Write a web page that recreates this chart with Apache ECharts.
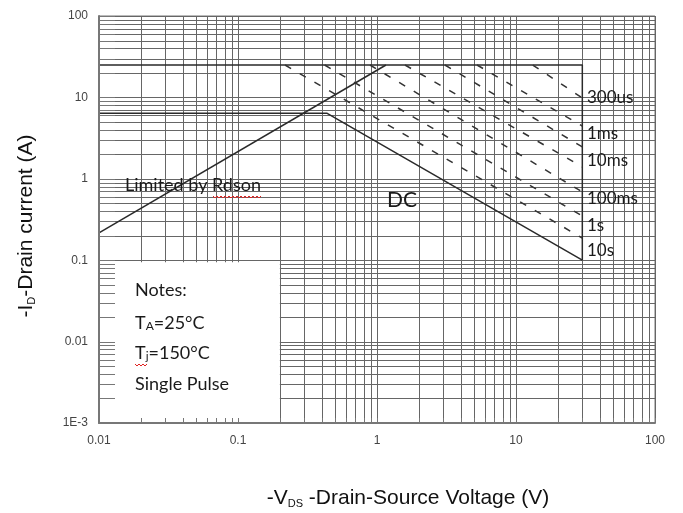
<!DOCTYPE html>
<html><head><meta charset="utf-8">
<script src="https://cdn.jsdelivr.net/npm/echarts@6/dist/echarts.min.js"></script>
<style>html,body{margin:0;padding:0;background:#fff}#c{width:683px;height:513px}</style>
</head><body><div id="c"></div>
<script>
// ---- tick labels ----
const xTickLabels = {'0.01':'0.01','0.1':'0.1','1':'1','10':'10','100':'100'};
const yTickLabels = {'0.001':'1E-3','0.01':'0.01','0.1':'0.1','1':'1','10':'10','100':'100'};
// ---- grid (decades x mantissas) ----
const decadesX = [0.01, 0.1, 1, 10];
const decadesY = [0.001, 0.01, 0.1, 1, 10];
const mantissas = [1, 2, 3, 4, 5, 6, 7, 8, 9];
// ---- curves (V, A) ----
const rdsonLimit = [[0.01, 0.216], [1.16, 25]];
const idmLimit   = [[0.01, 25], [30, 25], [30, 0.1]];
const dcLine     = [[0.01, 6.4], [0.435, 6.4], [30, 0.1]];
const pulseLines = [
  [[13.2, 25], [30, 9.84]],
  [[5.24, 25], [30, 4.45]],
  [[3.08, 25], [30, 2.46]],
  [[1.59, 25], [30, 1.40]],
  [[0.89, 25], [30, 0.689]],
  [[0.42, 25], [30, 0.349]],
  [[0.218, 25], [30, 0.187]]
];
const pulseNames = ['300us', '1ms', '10ms', '100ms', '1s', '10s'];
// notes box extent (V, A)
const notesBox = [[0.01, 0.001, 0.2, 0.1]];

const gridXVals = [];
decadesX.forEach(d => mantissas.forEach(m => gridXVals.push(+(d * m).toPrecision(3))));
gridXVals.push(100);
const gridYVals = [];
decadesY.forEach(d => mantissas.forEach(m => gridYVals.push(+(d * m).toPrecision(3))));
gridYVals.push(100);

const chart = echarts.init(document.getElementById('c'), null, {renderer: 'canvas'});
const axisFont = {fontFamily: 'Liberation Sans, Arial, sans-serif', fontSize: 12, color: '#444'};
const GRID_COLOR = '#666';

function snap(v) { return Math.round(v) + 0.5; }

const series = [
  { // vertical grid lines
    type: 'custom', z: 1, silent: true,
    data: gridXVals.map(v => [v, 1]),
    encode: {x: 0, y: 1},
    renderItem(params, api) {
      const cs = params.coordSys;
      const x = snap(api.coord([api.value(0), 1])[0]);
      return {type: 'line', shape: {x1: x, y1: cs.y, x2: x, y2: cs.y + cs.height},
        style: {stroke: GRID_COLOR, lineWidth: 1}};
    }
  },
  { // horizontal grid lines
    type: 'custom', z: 1, silent: true,
    data: gridYVals.map(v => [1, v]),
    encode: {x: 0, y: 1},
    renderItem(params, api) {
      const cs = params.coordSys;
      const y = snap(api.coord([1, api.value(1)])[1]);
      return {type: 'line', shape: {x1: cs.x, y1: y, x2: cs.x + cs.width, y2: y},
        style: {stroke: GRID_COLOR, lineWidth: 1}};
    }
  },
  { // notes box (white)
    type: 'custom', z: 2, silent: true,
    data: notesBox,
    encode: {x: [0, 2], y: [1, 3]},
    renderItem(params, api) {
      const p1 = api.coord([api.value(0), api.value(1)]);
      const p2 = api.coord([api.value(2), api.value(3)]);
      return {type: 'rect', shape: {x: p1[0] + 1, y: p2[1] + 2, width: p2[0] - p1[0] - 1, height: p1[1] - p2[1] - 3},
        style: {fill: '#fff'}};
    }
  },
  { // y minor tick stubs
    type: 'custom', z: 3, silent: true,
    data: gridYVals.map(v => [0.01, v]),
    encode: {x: 0, y: 1},
    renderItem(params, api) {
      const cs = params.coordSys;
      const y = snap(api.coord([0.01, api.value(1)])[1]);
      return {type: 'line', shape: {x1: cs.x, y1: y, x2: cs.x + 16, y2: y},
        style: {stroke: '#777', lineWidth: 1}};
    }
  },
  { // x minor tick stubs
    type: 'custom', z: 3, silent: true,
    data: gridXVals.map(v => [v, 0.001]),
    encode: {x: 0, y: 1},
    renderItem(params, api) {
      const cs = params.coordSys;
      const x = snap(api.coord([api.value(0), 0.001])[0]);
      return {type: 'line', shape: {x1: x, y1: cs.y + cs.height, x2: x, y2: cs.y + cs.height - 5},
        style: {stroke: '#777', lineWidth: 1}};
    }
  },
  {type: 'line', name: 'Rdson', z: 4, data: rdsonLimit, symbol: 'none', silent: true,
    lineStyle: {color: '#2a2a2a', width: 1.5}},
  {type: 'line', name: 'IDM', z: 4, data: idmLimit, symbol: 'none', silent: true,
    lineStyle: {color: '#2a2a2a', width: 1.5}},
  {type: 'line', name: 'DC', z: 4, data: dcLine, symbol: 'none', silent: true,
    lineStyle: {color: '#2a2a2a', width: 1.5}}
];
pulseLines.forEach((d, i) => series.push({
  type: 'line', name: 'pulse' + i, z: 4, data: d, symbol: 'none', silent: true,
  lineStyle: {color: '#333', width: 1.5, type: [7, 10]}
}));

function squiggle(x0, x1, y) {
  const pts = [];
  for (let x = x0, k = 0; x <= x1; x += 2, k++) pts.push([x, y + (k % 2 ? 2 : 0)]);
  return {type: 'polyline', z: 21, silent: true, shape: {points: pts}, style: {stroke: '#e02020', lineWidth: 1, fill: null}};
}

const noteFont = 'Lato, "Open Sans", sans-serif';
const titleFont = 'Liberation Sans, Arial, sans-serif';
const mid = 'middle';
const graphics = [
  {type: 'text', x: 125, y: 185, z: 20, style: {text: 'Limited by Rdson', font: '18px ' + noteFont, fill: '#1a1a1a', verticalAlign: mid}},
  squiggle(213, 262, 196),
  {type: 'text', x: 387, y: 200, z: 20, style: {text: 'DC', font: '21px ' + noteFont, fill: '#1a1a1a', verticalAlign: mid}},
  {type: 'text', x: 135, y: 290, z: 20, style: {text: 'Notes:', font: '18px ' + noteFont, fill: '#1a1a1a', verticalAlign: mid}},
  {type: 'text', x: 135, y: 323, z: 20, style: {text: 'T{s|A}=25°C', font: '18px ' + noteFont, fill: '#1a1a1a', verticalAlign: mid,
      rich: {s: {fontSize: 12, fontFamily: 'Lato', fill: '#1a1a1a', padding: [7, 0, 0, 0]}}}},
  {type: 'text', x: 135, y: 353, z: 20, style: {text: 'T{s|j}=150°C', font: '18px ' + noteFont, fill: '#1a1a1a', verticalAlign: mid,
      rich: {s: {fontSize: 12, fontFamily: 'Lato', fill: '#1a1a1a', padding: [7, 0, 0, 0]}}}},
  squiggle(135, 147, 364),
  {type: 'text', x: 135, y: 384, z: 20, style: {text: 'Single Pulse', font: '18px ' + noteFont, fill: '#1a1a1a', verticalAlign: mid}},
  {type: 'text', x: 408, y: 498, z: 20, style: {
      text: '-V{s|DS} -Drain-Source Voltage (V)', font: '21px ' + titleFont, fill: '#111',
      align: 'center', verticalAlign: mid,
      rich: {s: {fontSize: 11, fontFamily: titleFont, fill: '#111', padding: [12, 0, 0, 0]}}}},
  {type: 'text', x: 26, y: 226, rotation: Math.PI / 2, z: 20, style: {
      text: '-I{s|D}-Drain current (A)', font: '21px ' + titleFont, fill: '#111',
      align: 'center', verticalAlign: mid,
      rich: {s: {fontSize: 11, fontFamily: titleFont, fill: '#111', padding: [12, 0, 0, 0]}}}}
];
const labelYs = [98, 134, 161, 199, 226, 251];
pulseNames.forEach((n, i) => graphics.push({type: 'text', x: 587, y: labelYs[i], z: 20,
  style: {text: n, font: '17px ' + noteFont, fill: '#1a1a1a', verticalAlign: mid}}));

chart.setOption({
  animation: false,
  grid: {left: 99, right: 28, top: 16, bottom: 90, show: true, borderColor: '#777', borderWidth: 1, z: 0},
  xAxis: {type: 'log', logBase: 10, min: 0.01, max: 100, z: 10,
    axisLine: {show: true, lineStyle: {color: '#777', width: 2}},
    axisTick: {show: false}, splitLine: {show: false},
    axisLabel: Object.assign({margin: 12, formatter: v => xTickLabels[String(+v.toPrecision(3))] || ''}, axisFont)},
  yAxis: {type: 'log', logBase: 10, min: 0.001, max: 100, z: 10,
    axisLine: {show: true, lineStyle: {color: '#777', width: 2}},
    axisTick: {show: false}, splitLine: {show: false},
    axisLabel: Object.assign({margin: 11, formatter: v => yTickLabels[String(+v.toPrecision(3))] || ''}, axisFont)},
  series: series,
  graphic: graphics
});
</script></body></html>
